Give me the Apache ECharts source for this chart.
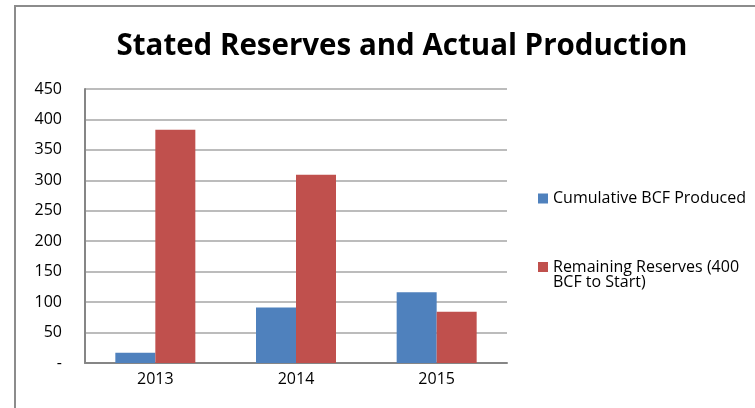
<!DOCTYPE html>
<html><head><meta charset="utf-8">
<script src="https://cdn.jsdelivr.net/npm/echarts@6/dist/echarts.min.js"></script>
<style>html,body{margin:0;padding:0;background:#fff}#c{width:755px;height:408px}</style>
</head><body><div id="c"></div>
<script>
const categories = ['2013', '2014', '2015'];
const cumulativeProduced = [17, 91, 116];
const remainingReserves = [383, 309, 84];
const seriesNames = ['Cumulative BCF Produced', 'Remaining Reserves (400\nBCF to Start)'];

const chart = echarts.init(document.getElementById('c'));
const FONT = 'Open Sans';
const legendText = { fontFamily: FONT, fontSize: 16, color: '#000', lineHeight: 15 };
chart.setOption({
  animation: false,
  backgroundColor: '#fff',
  title: {
    text: 'Stated Reserves and Actual Production',
    left: 397, top: 27, textAlign: 'center',
    textStyle: { fontFamily: FONT, fontWeight: 'bold', fontSize: 29.5, color: '#000' }
  },
  graphic: [{
    type: 'rect', shape: { x: 15, y: 6, width: 760, height: 420 },
    style: { fill: null, stroke: '#8c8c8c', lineWidth: 2 }, silent: true, z: -1
  }],
  legend: [{
    orient: 'vertical', left: 538, top: 190.5, padding: 0,
    itemWidth: 10, itemHeight: 10, icon: 'rect',
    textStyle: legendText,
    data: [seriesNames[0]]
  }, {
    orient: 'vertical', left: 538, top: 244, padding: 0,
    itemWidth: 10, itemHeight: 10, icon: 'rect',
    textStyle: legendText,
    formatter: n => '\n' + n,
    data: [seriesNames[1]]
  }],
  grid: { left: 85, right: 248, top: 89, bottom: 45 },
  xAxis: {
    type: 'category', data: categories,
    axisLine: { lineStyle: { color: '#868686', width: 2 } },
    axisTick: { show: false },
    axisLabel: { fontFamily: FONT, fontSize: 16, color: '#000', margin: 8 }
  },
  yAxis: {
    type: 'value', min: 0, max: 450, interval: 50,
    axisLine: { show: true, lineStyle: { color: '#868686', width: 2 } },
    axisTick: { show: false },
    splitLine: { lineStyle: { color: '#a6a6a6', width: 1.5 } },
    axisLabel: { fontFamily: FONT, fontSize: 16, color: '#000', margin: 23,
      formatter: v => v === 0 ? '-' : String(v) }
  },
  series: [
    { name: seriesNames[0], type: 'bar', data: cumulativeProduced, barWidth: 40, barGap: '0%',
      itemStyle: { color: '#4f81bd' } },
    { name: seriesNames[1], type: 'bar', data: remainingReserves, barWidth: 40,
      itemStyle: { color: '#c0504d' } }
  ]
});
</script></body></html>
